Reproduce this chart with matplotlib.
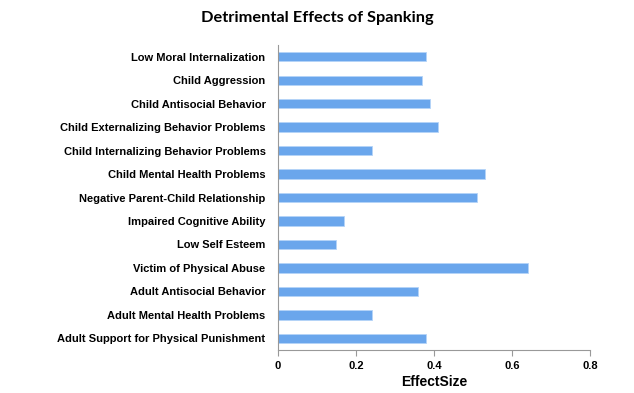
import matplotlib
matplotlib.use('Agg')
import matplotlib.pyplot as plt
import numpy as np

categories = ['Low Moral Internalization', 'Child Aggression', 'Child Antisocial Behavior',
              'Child Externalizing Behavior Problems', 'Child Internalizing Behavior Problems',
              'Child Mental Health Problems', 'Negative Parent-Child Relationship',
              'Impaired Cognitive Ability', 'Low Self Esteem', 'Victim of Physical Abuse',
              'Adult Antisocial Behavior', 'Adult Mental Health Problems',
              'Adult Support for Physical Punishment']
effect_size = [0.38, 0.37, 0.39, 0.41, 0.24, 0.53, 0.51, 0.17, 0.15, 0.64, 0.36, 0.24, 0.38]
xticks = [0, 0.2, 0.4, 0.6, 0.8]

fig = plt.figure(figsize=(6.34, 3.93), dpi=100)
ax = fig.add_axes([0.4385, 0.1094, 0.492, 0.776])

y = np.arange(len(categories))[::-1]
ax.barh(y, effect_size, height=0.4, color='#6aa6ec', edgecolor='#b5d4f8', linewidth=0.6)

ax.set_ylim(-0.5, len(categories) - 0.5)
ax.set_xlim(0, 0.8)
ax.set_yticks(y)
ax.set_yticklabels(categories, fontsize=8, fontweight='bold', family='Liberation Sans')
ax.set_xticks(xticks)
ax.set_xticklabels(['0', '0.2', '0.4', '0.6', '0.8'], fontsize=8, fontweight='bold',
                   family='Liberation Sans')
ax.tick_params(axis='y', length=0, pad=9)
ax.tick_params(axis='x', direction='out', length=4, color='#999999', pad=4)
for s in ['top', 'right']:
    ax.spines[s].set_visible(False)
ax.spines['left'].set_color('#999999')
ax.spines['bottom'].set_color('#999999')
ax.set_xlabel('EffectSize', fontsize=10, fontweight='bold', family='Liberation Sans', labelpad=3)

fig.text(0.5, 0.955, 'Detrimental Effects of Spanking', ha='center', va='center',
         fontsize=11.8, fontweight='bold', family='Lato')

fig.savefig('out.png', dpi=100)
